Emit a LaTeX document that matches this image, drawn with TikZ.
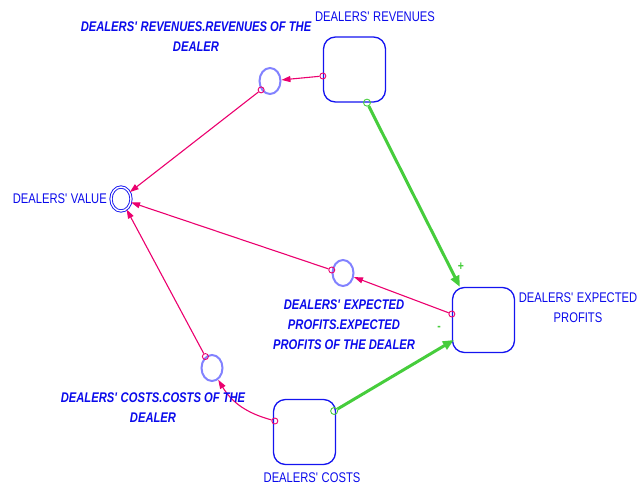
\documentclass[tikz,border=0pt]{standalone}
\usepackage{fontspec}
\setmainfont[FakeStretch=0.8]{Liberation Sans}
\usetikzlibrary{shapes.geometric,arrows.meta}
\newcommand{\sq}{\textquotesingle}
\definecolor{txtblue}{RGB}{10,10,235}
\definecolor{boxblue}{RGB}{20,20,240}
\definecolor{auxblue}{RGB}{130,130,255}
\definecolor{linkmag}{RGB}{235,0,110}
\definecolor{flowgreen}{RGB}{70,205,60}
\tikzset{
  stock/.style={draw=boxblue, line width=1.3pt, rounded corners=12pt, minimum width=62pt, minimum height=65pt, inner sep=0pt},
  aux/.style={ellipse, draw=auxblue, line width=2pt, minimum width=21pt, minimum height=26pt, inner sep=0pt},
  valnode/.style={ellipse, draw=boxblue, double, double distance=1.4pt, line width=0.9pt, minimum width=20pt, minimum height=24pt, inner sep=0pt},
  port/.style={circle, draw=linkmag, line width=0.9pt, minimum size=6pt, inner sep=0pt},
  gport/.style={circle, draw=flowgreen, line width=0.9pt, minimum size=7pt, inner sep=0pt},
  link/.style={draw=linkmag, line width=1.1pt, -{Triangle[length=9pt,width=6pt]}},
  flow/.style={draw=flowgreen, line width=3pt, -{Triangle[length=11pt,width=9pt]}},
  lbl/.style={text=txtblue, font=\fontsize{14}{20}\selectfont, align=center, inner sep=0pt},
  blbl/.style={text=txtblue, font=\fontsize{14}{20}\selectfont\bfseries\itshape, align=center, inner sep=0pt},
  sign/.style={text=flowgreen, font=\fontsize{13}{13}\selectfont\bfseries, inner sep=0pt},
}
\begin{document}
\begin{tikzpicture}[x=1pt,y=-1pt]
\useasboundingbox (0,0) rectangle (639,487);
% stocks
\node[stock] (rev) at (354.5,69.5) {};
\node[stock] (ep) at (483.5,320) {};
\node[stock] (cost) at (304.5,432) {};
% auxiliaries
\node[aux] (revaux) at (270,81) {};
\node[aux] (epaux) at (343,273) {};
\node[aux] (costaux) at (212,368) {};
\node[valnode] (val) at (121,199) {};
% ports
\node[port] (p1) at ([yshift=-6.5pt]rev.west) {};
\node[port] (p2) at (revaux.225) {};
\node[port] (p3) at ([yshift=6pt]ep.west) {};
\node[port] (p4) at (epaux.165) {};
\node[port] (p5) at ([xshift=2pt,yshift=11pt]cost.west) {};
\node[port] (p6) at (costaux.120) {};
\node[gport] (g1) at ([xshift=12.5pt]rev.south) {};
\node[gport] (g2) at ([xshift=-2pt,yshift=21pt]cost.east) {};
\coordinate (t1) at ([xshift=8pt]ep.north west);
\coordinate (t2) at ([xshift=2pt,yshift=-20pt]ep.west);
% links
\draw[link] (p1) -- (revaux);
\draw[link] (p2) -- (val);
\draw[link] (p3) -- (epaux);
\draw[link] (p4) -- (val);
\draw[link] (p5) to[bend left=22] (costaux);
\draw[link] (p6) -- (val);
% flows
\draw[flow] (g1) -- (t1);
\draw[flow] (g2) -- (t2);
\node[sign] (plus) at (461,267) {+};
\node[sign] (minus) at (439,328) {-};
% labels
\node[lbl] (trev) at (375,17) {DEALERS\sq{} REVENUES};
\node[blbl] (lrev) at (196,37) {DEALERS\sq{} REVENUES.REVENUES OF THE\\DEALER};
\node[lbl, anchor=east] (tval) at (107,199) {DEALERS\sq{} VALUE};
\node[blbl] (lep) at (344,325) {DEALERS\sq{} EXPECTED\\PROFITS.EXPECTED\\PROFITS OF THE DEALER};
\node[lbl] (tep) at (578,308) {DEALERS\sq{} EXPECTED\\PROFITS};
\node[blbl] (lcost) at (153,408) {DEALERS\sq{} COSTS.COSTS OF THE\\DEALER};
\node[lbl] (tcost) at (312,478) {DEALERS\sq{} COSTS};
\end{tikzpicture}
\end{document}
